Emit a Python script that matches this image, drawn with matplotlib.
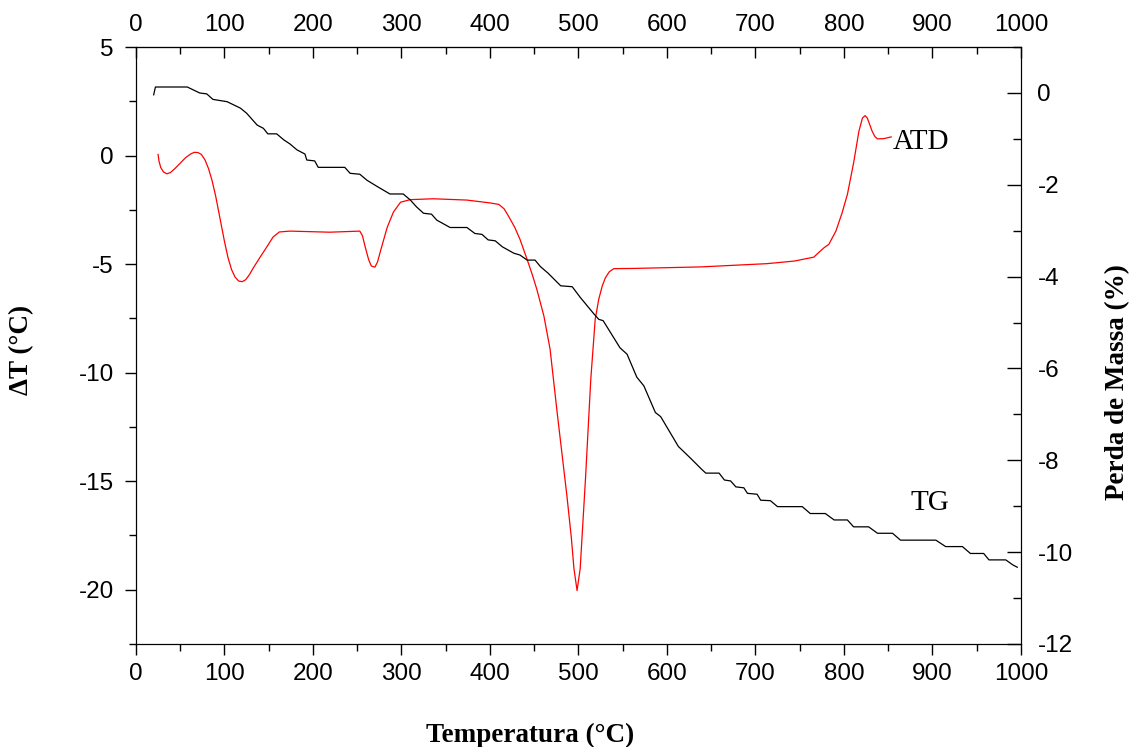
import matplotlib
matplotlib.use("Agg")
import matplotlib.pyplot as plt
from matplotlib.ticker import MultipleLocator

plt.rcParams["axes.unicode_minus"] = False

# TG curve (mass loss, right axis)
tg_temp = [20, 22, 58, 72, 80, 87, 103, 118, 125, 137,
           144, 149, 159, 167, 174, 182, 191, 193, 202, 206,
           236, 242, 253, 261, 272, 287, 302, 310, 317, 325,
           334, 340, 355, 374, 383, 391, 398, 406, 414, 427,
           434, 442, 451, 457, 466, 480, 493, 502, 517, 523,
           528, 547, 555, 566, 574, 587, 593, 613, 627, 640,
           644, 659, 665, 672, 678, 687, 691, 702, 706, 717,
           725, 753, 762, 779, 789, 804, 811, 828, 838, 855,
           864, 904, 915, 934, 943, 958, 964, 983, 991, 996]
tg_mass = [-0.04, 0.13, 0.13, 0.0, -0.02, -0.14, -0.19, -0.33, -0.44, -0.70,
           -0.77, -0.89, -0.89, -1.02, -1.11, -1.24, -1.33, -1.46, -1.48, -1.62,
           -1.62, -1.75, -1.77, -1.90, -2.03, -2.20, -2.20, -2.33, -2.48, -2.62,
           -2.64, -2.77, -2.93, -2.93, -3.06, -3.08, -3.20, -3.22, -3.35, -3.49,
           -3.53, -3.64, -3.64, -3.78, -3.93, -4.20, -4.22, -4.45, -4.80, -4.93,
           -4.96, -5.55, -5.69, -6.19, -6.38, -6.96, -7.05, -7.70, -7.96, -8.21,
           -8.28, -8.28, -8.43, -8.45, -8.58, -8.60, -8.72, -8.74, -8.87, -8.88,
           -9.01, -9.01, -9.16, -9.16, -9.30, -9.30, -9.45, -9.45, -9.59, -9.59,
           -9.74, -9.74, -9.88, -9.88, -10.03, -10.03, -10.17, -10.17, -10.28, -10.33]

# ATD curve (delta T, left axis)
atd_temp = [25, 26, 28, 31, 35, 39, 44, 50, 56, 62,
            66, 70, 74, 78, 82, 86, 90, 95, 100, 104,
            108, 112, 116, 120, 124, 128, 133, 140, 148, 155,
            162, 174, 219, 253, 256, 259, 263, 266, 270, 273,
            277, 284, 291, 299, 310, 336, 374, 400, 410, 416,
            421, 428, 434, 442, 448, 453, 461, 468, 476, 487,
            492, 495, 498.5, 502, 508, 514, 519, 523, 527, 530.5,
            535, 540, 562, 638, 713, 744, 766, 772, 777.5, 783,
            791, 798, 804, 811, 817, 821, 824, 826.5, 829, 832,
            835, 838, 845, 853.5]
atd_dt = [0.05, -0.25, -0.55, -0.75, -0.84, -0.78, -0.6, -0.35, -0.1, 0.08,
          0.15, 0.14, 0.05, -0.2, -0.6, -1.15, -1.85, -2.9, -3.95, -4.7,
          -5.25, -5.6, -5.78, -5.81, -5.72, -5.5, -5.15, -4.7, -4.2, -3.75,
          -3.52, -3.48, -3.53, -3.48, -3.7, -4.2, -4.8, -5.09, -5.14, -4.9,
          -4.3, -3.3, -2.6, -2.15, -2.03, -1.99, -2.05, -2.18, -2.25, -2.45,
          -2.79, -3.3, -3.86, -4.78, -5.5, -6.16, -7.39, -8.92, -11.84, -15.67,
          -17.6, -19.04, -20.04, -19.04, -14.90, -10.30, -7.54, -6.62, -6.0, -5.63,
          -5.35, -5.21, -5.20, -5.13, -4.98, -4.86, -4.68, -4.45, -4.25, -4.09,
          -3.48, -2.64, -1.79, -0.34, 1.12, 1.73, 1.84, 1.73, 1.45, 1.12,
          0.88, 0.77, 0.78, 0.86]

tick_font = {"family": "Liberation Sans", "size": 17.5}
label_font = {"family": "Liberation Serif", "weight": "bold", "size": 19.5}

fig = plt.figure(figsize=(11.33, 7.47), dpi=100)
ax = fig.add_axes([0.120, 0.138, 0.781, 0.799])

ax.plot(atd_temp, atd_dt, color="red", lw=0.9)
ax.set_xlim(0, 1000)
ax.set_ylim(-22.5, 5)
ax.xaxis.set_major_locator(MultipleLocator(100))
ax.xaxis.set_minor_locator(MultipleLocator(50))
ax.yaxis.set_major_locator(MultipleLocator(5))
ax.yaxis.set_minor_locator(MultipleLocator(2.5))
ax.tick_params(axis="x", which="major", direction="out", length=8, width=1, pad=6)
ax.tick_params(axis="x", which="minor", direction="out", length=5, width=1)
ax.tick_params(axis="y", which="major", direction="out", length=8, width=1, pad=8)
ax.tick_params(axis="y", which="minor", direction="out", length=5, width=1)

# top axis, ticks pointing in
top = ax.secondary_xaxis("top")
top.xaxis.set_major_locator(MultipleLocator(100))
top.xaxis.set_minor_locator(MultipleLocator(50))
top.tick_params(which="major", direction="in", length=8, width=1, pad=8)
top.tick_params(which="minor", direction="in", length=5, width=1)

# right axis for TG
ax2 = ax.twinx()
ax2.plot(tg_temp, tg_mass, color="black", lw=0.9)
ax2.set_ylim(-12, 1)
ax2.yaxis.set_major_locator(MultipleLocator(2))
ax2.yaxis.set_minor_locator(MultipleLocator(1))
ax2.tick_params(axis="y", which="major", direction="in", length=10, width=1, pad=12)
ax2.tick_params(axis="y", which="minor", direction="in", length=6, width=1)

for a in (ax, ax2, top):
    for lab in a.get_xticklabels() + a.get_yticklabels():
        lab.set_fontfamily(tick_font["family"])
        lab.set_fontsize(tick_font["size"])

ax.text(855, 0.64, "ATD", fontfamily="Liberation Serif", fontsize=21, va="center", ha="left")
ax.text(875, -16.0, "TG", fontfamily="Liberation Serif", fontsize=21, va="center", ha="left")

fig.text(530 / 1133, 1 - 735 / 747, "Temperatura (\u00b0C)", ha="center", va="center", **label_font)
fig.text(22 / 1133, 1 - 350 / 747, "\u0394T (\u00b0C)", ha="center", va="center", rotation=90, **label_font)
fig.text(1118 / 1133, 1 - 382 / 747, "Perda de Massa (%)", ha="center", va="center", rotation=90, **label_font)

fig.savefig("out.png", dpi=100)
